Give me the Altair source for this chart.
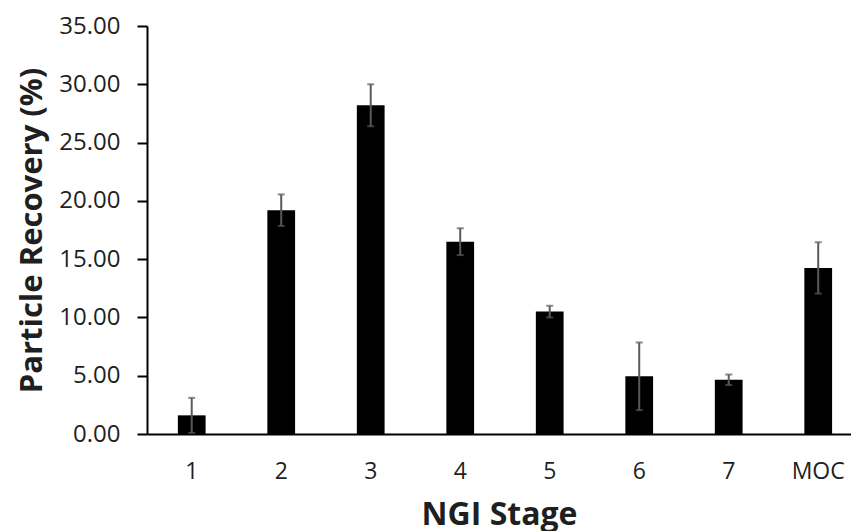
import altair as alt
import pandas as pd

stages = ["1", "2", "3", "4", "5", "6", "7", "MOC"]
recovery = [1.6, 19.2, 28.2, 16.5, 10.5, 4.95, 4.65, 14.25]
err = [1.5, 1.35, 1.8, 1.15, 0.5, 2.9, 0.45, 2.2]

df = pd.DataFrame({
    "stage": stages,
    "value": recovery,
    "lo": [v - e for v, e in zip(recovery, err)],
    "hi": [v + e for v, e in zip(recovery, err)],
})

FONT = "Open Sans"
TXT = "#1f1f1f"

x = alt.X(
    "stage:N",
    sort=stages,
    title="NGI Stage",
    scale=alt.Scale(paddingInner=0.69, paddingOuter=0.278, align=0.62),
    axis=alt.Axis(
        labelAngle=0, labelFont=FONT, labelFontSize=23, labelColor=TXT,
        labelPadding=26, ticks=False, domainColor="#000000", domainWidth=2,
        titleFont=FONT, titleFontSize=32, titleFontWeight="bold",
        titleColor=TXT, titlePadding=16,
    ),
)

y_axis = alt.Axis(
    values=[0, 5, 10, 15, 20, 25, 30, 35], format=".2f",
    labelFont=FONT, labelFontSize=24, labelColor=TXT, labelPadding=17,
    tickColor="#000000", tickWidth=2, tickSize=10, domainColor="#000000",
    domainWidth=2, grid=False,
    titleFont=FONT, titleFontSize=31, titleFontWeight="bold",
    titleColor=TXT, titlePadding=10,
)

bars = alt.Chart(df).mark_bar(color="#000000").encode(
    x=x,
    y=alt.Y("value:Q", title="Particle Recovery (%)",
            scale=alt.Scale(domain=[0, 35], nice=False), axis=y_axis),
)

rules = alt.Chart(df).mark_rule(color="#5a5a5a", strokeWidth=2).encode(
    x=alt.X("stage:N", sort=stages),
    y="lo:Q",
    y2="hi:Q",
)

caps_hi = alt.Chart(df).mark_tick(color="#5a5a5a", thickness=2, size=7).encode(
    x=alt.X("stage:N", sort=stages),
    y="hi:Q",
)
caps_lo = alt.Chart(df).mark_tick(color="#5a5a5a", thickness=2, size=7).encode(
    x=alt.X("stage:N", sort=stages),
    y="lo:Q",
)

chart = alt.layer(bars, rules, caps_hi, caps_lo).properties(
    width=704, height=408,
    padding={"left": 147, "top": 26, "right": 0, "bottom": 97},
    autosize=alt.AutoSizeParams(type="none"),
    background="#ffffff",
).configure_view(stroke=None)

chart.save("out.html", embed_options={"renderer": "svg", "actions": False})
